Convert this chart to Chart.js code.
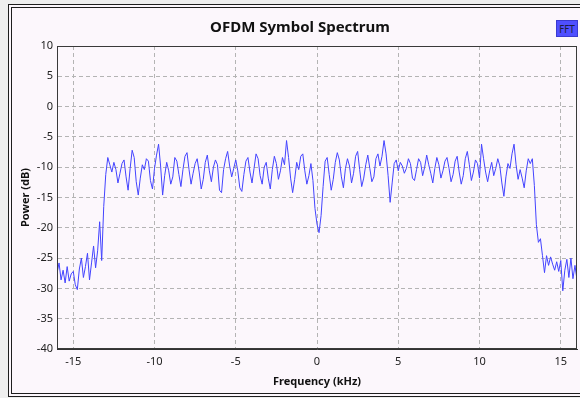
<!DOCTYPE html>
<html>
<head>
<meta charset="utf-8">
<script src="https://cdn.jsdelivr.net/npm/chart.js@4"></script>
<style>
  html, body { margin: 0; padding: 0; background: #efefef; overflow: hidden; }
  body { width: 580px; height: 398px; position: relative; }
  #frame {
    position: absolute; left: 8px; top: 4px; width: 590px; height: 385px;
    border: 4px double #1e1e1e; background: #fcf7fc;
  }
  #chartBox { position: absolute; left: 0; top: 0; width: 580px; height: 398px; }
  #fftBtn {
    position: absolute; left: 556px; top: 20px; width: 22px; height: 17px;
    background: #4f4fff; color: #1c1c40; font: 10px "DejaVu Sans Condensed", "DejaVu Sans", sans-serif;
    line-height: 17px; text-align: center; box-sizing: border-box; border: 1px solid #3a3ad0;
  }
</style>
</head>
<body>
<div id="frame"></div>
<div id="chartBox"><canvas id="spectrumChart" width="580" height="398"></canvas></div>
<div id="fftBtn">FFT</div>
<script>
// FFT bins, 0.125 kHz apart, starting at -16 kHz
const startFreq = -16;
const binWidth = 0.125;

// power per bin in dB, one row per kHz
const powerDb = [
  -27.5, -25.8, -28.6, -27.0, -29.1, -26.4, -28.8, -27.6,   // -16
  -27.2, -29.4, -30.2, -26.8, -25.0, -28.2, -26.4, -24.2,   // -15
  -28.6, -25.8, -23.0, -26.6, -23.8, -19.0, -25.4, -16.5,   // -14
  -11.2, -8.4, -9.6, -10.8, -9.2, -10.4, -12.6, -11.0,      // -13
  -9.4, -8.8, -11.6, -13.8, -10.2, -7.2, -8.4, -12.4,       // -12
  -14.6, -11.8, -9.6, -10.4, -8.6, -9.0, -12.2, -13.6,      // -11
  -10.2, -8.0, -6.2, -9.8, -14.6, -11.4, -9.2, -10.6,       // -10
  -12.8, -11.6, -8.4, -9.0, -11.2, -13.2, -10.4, -8.2,      // -9
  -7.6, -10.4, -12.8, -11.0, -9.4, -8.6, -10.8, -13.6,      // -8
  -12.0, -9.2, -8.0, -10.6, -12.4, -10.0, -8.8, -9.6,       // -7
  -13.8, -14.2, -10.4, -8.6, -7.4, -9.8, -11.6, -10.2,      // -6
  -8.8, -10.6, -13.4, -14.0, -11.2, -9.0, -8.4, -10.8,      // -5
  -12.6, -10.2, -7.8, -8.6, -11.4, -12.8, -10.0, -9.2,      // -4
  -11.8, -13.6, -10.4, -8.2, -9.4, -12.0, -10.6, -8.4,      // -3
  -9.6, -5.6, -8.4, -11.8, -14.2, -12.0, -9.2, -10.4,       // -2
  -8.2, -7.8, -10.6, -12.8, -11.4, -9.4, -12.2, -16.8,      // -1
  -19.4, -20.8, -18.0, -13.2, -9.0, -8.4, -11.2, -13.8,     // 0
  -12.0, -9.2, -7.6, -8.8, -11.6, -13.4, -10.2, -8.6,       // 1
  -9.8, -12.6, -11.0, -8.2, -7.4, -10.4, -13.2, -11.8,      // 2
  -9.6, -8.0, -10.2, -12.4, -11.6, -8.6, -7.8, -9.8,        // 3
  -8.2, -5.6, -7.8, -11.4, -15.8, -12.6, -9.4, -8.8,        // 4
  -10.6, -9.2, -9.8, -11.0, -10.2, -8.6, -9.4, -11.8,       // 5
  -12.2, -10.4, -8.6, -9.2, -11.4, -10.0, -8.0, -9.6,       // 6
  -11.0, -12.6, -10.2, -8.4, -9.6, -11.8, -10.6, -9.0,      // 7
  -8.4, -10.2, -12.4, -11.2, -9.0, -8.2, -10.8, -12.8,      // 8
  -11.4, -8.6, -7.4, -9.6, -12.2, -10.8, -8.8, -9.4,        // 9
  -11.8, -6.2, -8.6, -10.8, -12.4, -10.6, -9.2, -11.4,      // 10
  -10.2, -8.6, -9.8, -12.6, -14.8, -11.6, -9.4, -10.2,      // 11
  -7.8, -6.2, -9.6, -12.0, -10.4, -11.8, -13.4, -10.6,      // 12
  -8.6, -9.4, -8.6, -13.0, -19.5, -22.4, -21.8, -24.6,      // 13
  -27.4, -24.6, -26.2, -24.8, -26.0, -27.0, -25.6, -27.2,   // 14
  -25.4, -30.4, -27.0, -25.2, -28.2, -25.0, -28.4, -26.2,   // 15
  -28.6                                                     // 16
];

const freqTicks = [-15, -10, -5, 0, 5, 10, 15];
const powerTicks = [10, 5, 0, -5, -10, -15, -20, -25, -30, -35, -40];

const points = powerDb.map((p, i) => ({ x: startFreq + i * binWidth, y: p }));

const tickFont = { family: 'Noto Sans', size: 11 };
const axisTitleFont = { family: 'Noto Sans', size: 11, weight: 'bold' };
const gridStyle = { color: '#b4b4b4', lineWidth: 1, drawTicks: false };

// box around the plot area
const plotFrame = {
  id: 'plotFrame',
  afterDatasetsDraw(chart) {
    const { ctx, chartArea: a } = chart;
    ctx.save();
    ctx.strokeStyle = '#3a3a3a';
    ctx.lineWidth = 1;
    ctx.strokeRect(a.left + 0.5, a.top + 0.5, a.right - a.left - 1, a.bottom - a.top - 1);
    ctx.restore();
  }
};

new Chart(document.getElementById('spectrumChart'), {
  type: 'line',
  data: {
    datasets: [{
      label: 'FFT',
      data: points,
      borderColor: '#4343ff',
      borderWidth: 1,
      pointRadius: 0,
      tension: 0,
      fill: false
    }]
  },
  options: {
    responsive: false,
    animation: false,
    layout: { padding: { left: 23, right: 3, top: 8, bottom: 9 } },
    plugins: {
      legend: { display: false },
      tooltip: { enabled: false },
      title: {
        display: true,
        text: 'OFDM Symbol Spectrum',
        color: '#111',
        font: { family: 'Noto Sans', size: 15, weight: 'bold' },
        padding: { top: 11, bottom: 9 }
      }
    },
    scales: {
      x: {
        type: 'linear',
        min: -16,
        max: 16,
        afterFit: s => { s.height = 40; },
        afterBuildTicks: s => { s.ticks = freqTicks.map(v => ({ value: v })); },
        grid: gridStyle,
        border: { display: true, color: '#333', width: 1, dash: [4, 3] },
        ticks: { font: tickFont, color: '#222', padding: 6, maxRotation: 0 },
        title: { display: true, text: 'Frequency (kHz)', font: axisTitleFont, color: '#111', padding: { top: 0, bottom: 1 } }
      },
      y: {
        min: -40,
        max: 10,
        afterFit: s => { s.width = 34; },
        afterBuildTicks: s => { s.ticks = powerTicks.map(v => ({ value: v })); },
        grid: gridStyle,
        border: { display: true, color: '#333', width: 1, dash: [4, 3] },
        ticks: { font: tickFont, color: '#222', padding: 4 },
        title: { display: true, text: 'Power (dB)', font: axisTitleFont, color: '#111', padding: { top: -4, bottom: 0 } }
      }
    }
  },
  plugins: [plotFrame]
});
</script>
</body>
</html>
